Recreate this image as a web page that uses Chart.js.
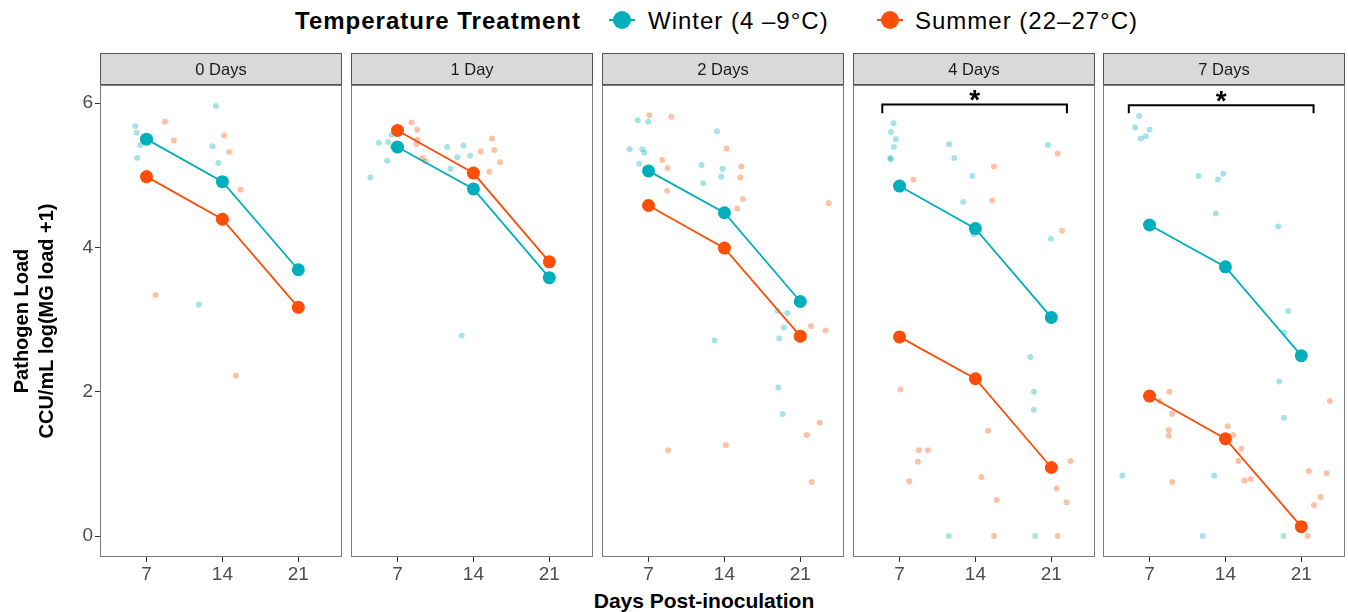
<!DOCTYPE html>
<html>
<head>
<meta charset="utf-8">
<script src="https://cdn.jsdelivr.net/npm/chart.js@4.4.0/dist/chart.umd.min.js"></script>
<style>
  body { margin: 0; background: #fff; font-family: "Liberation Sans", Arial, sans-serif; }
  #wrap { position: relative; width: 1348px; height: 612px; overflow: hidden; background: #fff; }
  #wrap canvas { position: absolute; top: 50px; }
  .lg { position: absolute; top: 5px; height: 32px; line-height: 32px; font-size: 24px; letter-spacing: 1px; color: #000; white-space: nowrap; }
  .sym { position: absolute; top: 11px; width: 26px; height: 18px; }
  .sym::before { content: ''; position: absolute; left: 0; right: 0; top: 8px; height: 2px; background: var(--c); }
  .sym::after { content: ''; position: absolute; left: 4px; top: 0; width: 18px; height: 18px; border-radius: 50%; background: var(--c); }
  #xtitle { position: absolute; left: 0; width: 1408px; top: 589px; line-height: 24px; text-align: center; font-weight: bold; font-size: 21px; }
</style>
</head>
<body>
<div id="wrap">
  <div class="lg" style="left:295px;font-weight:bold;">Temperature Treatment</div>
  <div class="sym" style="left:609px;--c:#00AFBB;"></div>
  <div class="lg" style="left:648px;">Winter (4 –9°C)</div>
  <div class="sym" style="left:877px;--c:#FC4E07;"></div>
  <div class="lg" style="left:915px;">Summer (22–27°C)</div>
  <div id="xtitle">Days Post-inoculation</div>
</div>
<script>
// facets and axes
const panels = ['0 Days', '1 Day', '2 Days', '4 Days', '7 Days'];
const days = [7, 14, 21];
const yTicks = [0, 2, 4, 6];

// group means per facet (at 7, 14, 21 days)
const winterMean = [
  [5.50, 4.91, 3.69],
  [5.39, 4.81, 3.58],
  [5.06, 4.48, 3.25],
  [4.85, 4.26, 3.03],
  [4.31, 3.73, 2.50]
];
const summerMean = [
  [4.98, 4.39, 3.17],
  [5.62, 5.03, 3.80],
  [4.58, 3.99, 2.77],
  [2.76, 2.18, 0.95],
  [1.94, 1.35, 0.13]
];

// jittered individual samples [day, load]
const winterRaw = [
  [[5.96,5.68],[6.10,5.59],[6.42,5.42],[6.14,5.24],[13.40,5.96],[13.09,5.40],[13.62,5.17],[11.83,3.21]],
  [[5.28,5.45],[4.49,4.97],[6.14,5.46],[6.45,5.56],[6.54,5.39],[6.05,5.20],[11.58,5.39],[13.08,5.41],[12.52,5.25],[13.69,5.27],[11.88,5.09],[14.15,4.77],[12.92,2.78]],
  [[6.01,5.76],[6.97,5.74],[5.25,5.36],[6.42,5.36],[6.63,5.31],[6.14,5.16],[13.31,5.61],[11.89,5.14],[13.83,5.09],[13.71,4.98],[12.05,4.89],[13.09,2.71],[18.91,3.12],[19.81,3.09],[19.49,2.89],[19.06,2.74],[18.97,2.06],[19.37,1.69]],
  [[6.45,5.72],[6.21,5.60],[6.67,5.50],[6.48,5.39],[6.14,5.24],[6.21,5.22],[11.58,5.43],[12.06,5.24],[13.72,4.99],[12.87,4.63],[13.81,4.18],[20.69,5.42],[20.97,4.12],[19.06,2.48],[19.40,2.00],[19.38,1.75],[11.55,0],[19.50,0]],
  [[6.05,5.82],[5.68,5.66],[7.00,5.63],[6.20,5.51],[6.66,5.54],[11.51,4.99],[13.32,4.94],[13.81,5.02],[13.11,4.47],[18.88,4.29],[19.80,3.12],[19.43,2.82],[18.97,2.14],[19.40,1.64],[4.49,0.84],[12.96,0.84],[11.91,0],[19.37,0]]
];
const summerRaw = [
  [[8.69,5.74],[9.52,5.48],[7.00,5.04],[14.17,5.55],[14.64,5.32],[15.68,4.80],[7.83,3.34],[15.25,2.22]],
  [[8.29,5.73],[8.81,5.63],[8.84,5.49],[8.75,5.43],[9.30,5.24],[9.61,5.19],[15.72,5.51],[15.93,5.35],[14.67,5.33],[16.46,5.18],[15.47,5.05]],
  [[7.06,5.83],[9.10,5.81],[8.26,5.21],[8.75,5.10],[8.72,4.78],[8.81,1.19],[14.20,5.37],[15.56,5.12],[15.47,4.97],[15.71,4.67],[15.19,4.54],[14.14,1.26],[23.62,4.61],[21.99,2.91],[23.34,2.85],[22.79,1.57],[21.59,1.40],[22.05,0.75]],
  [[8.29,4.94],[7.09,2.03],[8.79,1.19],[9.62,1.19],[8.69,1.03],[7.89,0.76],[15.72,5.12],[15.56,4.65],[15.17,1.46],[14.55,0.82],[15.97,0.50],[15.72,0],[21.59,5.30],[21.98,4.23],[22.78,1.04],[21.49,0.66],[22.41,0.47],[21.59,0]],
  [[8.84,2.00],[7.92,1.87],[9.09,1.69],[8.78,1.47],[8.78,1.39],[9.09,0.75],[14.21,1.52],[14.71,1.40],[15.47,1.21],[15.20,1.04],[15.75,0.77],[16.33,0.79],[23.64,1.87],[21.70,0.90],[23.33,0.87],[22.77,0.54],[22.17,0.43],[21.58,0]]
];

// significance brackets: [from, to, top, tip] in data units
const brackets = [null, null, null, [5.41, 22.44, 5.98, 5.86], [5.09, 22.13, 5.97, 5.86]];
const sigLabel = '*';

const WINTER = '#00AFBB';
const SUMMER = '#FC4E07';
const panelLeft = [100, 351, 602, 853, 1103];
const PANEL_W = 242;
const FONT = '"Liberation Sans", Arial, sans-serif';

const facetPlugin = {
  id: 'facet',
  afterDraw(chart, args, opts) {
    const { ctx, chartArea: a } = chart;
    ctx.save();
    // strip
    ctx.fillStyle = '#d9d9d9';
    ctx.fillRect(a.left, a.top - 32, a.right - a.left, 32);
    ctx.strokeStyle = '#555';
    ctx.lineWidth = 1;
    ctx.strokeRect(a.left + 0.5, a.top - 31.5, a.right - a.left - 1, 31);
    ctx.fillStyle = '#1a1a1a';
    ctx.font = '16.5px ' + FONT;
    ctx.textAlign = 'center';
    ctx.textBaseline = 'middle';
    ctx.fillText(opts.label, (a.left + a.right) / 2, a.top - 15);
    // panel border
    ctx.strokeStyle = '#7a7a7a';
    ctx.strokeRect(a.left + 0.5, a.top + 0.5, a.right - a.left - 1, a.bottom - a.top - 1);
    // significance star
    const b = opts.bracket;
    if (b) {
      const x = chart.scales.x.getPixelForValue((b[0] + b[1]) / 2);
      const y = chart.scales.y.getPixelForValue(b[2]);
      ctx.fillStyle = '#000';
      ctx.font = 'bold 28px ' + FONT;
      ctx.textBaseline = 'alphabetic';
      ctx.fillText(sigLabel, x, y + 5);
    }
    ctx.restore();
  }
};

const wrap = document.getElementById('wrap');

panels.forEach((label, i) => {
  const first = i === 0;
  const padL = first ? 100 : 2;
  const canvas = document.createElement('canvas');
  canvas.width = padL + PANEL_W + 2;
  canvas.height = 562;
  canvas.style.left = (panelLeft[i] - padL) + 'px';
  wrap.appendChild(canvas);

  // first dataset is drawn on top
  const datasets = [
    {
      data: days.map((d, j) => ({ x: d, y: summerMean[i][j] })),
      showLine: true,
      borderColor: SUMMER,
      borderWidth: 1.8,
      backgroundColor: SUMMER,
      pointBorderWidth: 0,
      pointRadius: 6.5
    },
    {
      data: days.map((d, j) => ({ x: d, y: winterMean[i][j] })),
      showLine: true,
      borderColor: WINTER,
      borderWidth: 1.8,
      backgroundColor: WINTER,
      pointBorderWidth: 0,
      pointRadius: 6.5
    },
    {
      data: winterRaw[i].map(([x, y]) => ({ x, y })),
      backgroundColor: 'rgba(0,175,187,0.35)',
      borderWidth: 0,
      pointRadius: 3
    },
    {
      data: summerRaw[i].map(([x, y]) => ({ x, y })),
      backgroundColor: 'rgba(252,78,7,0.35)',
      borderWidth: 0,
      pointRadius: 3
    }
  ];
  const b = brackets[i];
  if (b) {
    datasets.push({
      data: [{ x: b[0], y: b[3] }, { x: b[0], y: b[2] }, { x: b[1], y: b[2] }, { x: b[1], y: b[3] }],
      showLine: true,
      borderColor: '#000',
      borderWidth: 2,
      pointRadius: 0,
      clip: false
    });
  }

  new Chart(canvas.getContext('2d'), {
    type: 'scatter',
    data: { datasets },
    options: {
      animation: false,
      responsive: false,
      devicePixelRatio: 1,
      layout: { autoPadding: false, padding: { top: 35, right: 2, left: first ? 0 : 2, bottom: 0 } },
      plugins: {
        legend: { display: false },
        tooltip: { enabled: false },
        facet: { label, bracket: b }
      },
      scales: {
        x: {
          type: 'linear',
          min: 2.71,
          max: 25.03,
          afterBuildTicks: s => { s.ticks = days.map(v => ({ value: v })); },
          afterFit: s => { s.height = 55; },
          border: { display: false },
          grid: { drawOnChartArea: false, drawTicks: true, tickLength: 5, color: '#333' },
          ticks: { color: '#4d4d4d', font: { family: FONT, size: 19 }, padding: 1, maxRotation: 0 }
        },
        y: {
          type: 'linear',
          display: first,
          min: -0.29,
          max: 6.25,
          afterBuildTicks: s => { s.ticks = yTicks.map(v => ({ value: v })); },
          afterFit: s => { s.width = first ? 100 : 0; },
          border: { display: false },
          grid: { drawOnChartArea: false, drawTicks: true, tickLength: 5, color: '#333' },
          ticks: { color: '#4d4d4d', font: { family: FONT, size: 19 }, padding: 2 },
          title: {
            display: true,
            text: ['Pathogen Load', 'CCU/mL log(MG load +1)'],
            color: '#000',
            font: { family: FONT, size: 20, weight: 'bold', lineHeight: 1.25 },
            padding: { top: 10, bottom: 0 }
          }
        }
      }
    },
    plugins: [facetPlugin]
  });
});
</script>
</body>
</html>
